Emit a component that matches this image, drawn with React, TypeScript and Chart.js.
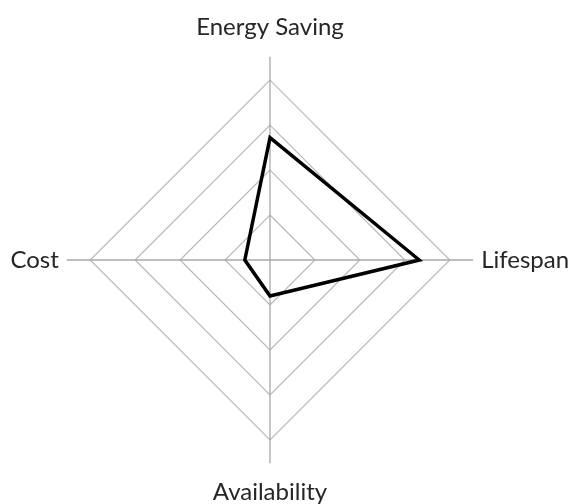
import React, { useEffect, useRef } from "react";
import { Chart, registerables } from "chart.js";

Chart.register(...registerables);

const categories = ["Energy Saving", "Lifespan", "Availability", "Cost"];
const seriesValues = [68, 83, 20, 14];
const gridSteps = [25, 50, 75, 100];

export default function App() {
  const ref = useRef<HTMLCanvasElement | null>(null);
  useEffect(() => {
    if (!ref.current) return;
    const chart = new Chart(ref.current, {
      type: "radar",
      data: {
        labels: categories,
        datasets: [
          {
            label: "Series",
            data: seriesValues,
            borderColor: "#000000",
            borderWidth: 3.5,
            backgroundColor: "transparent",
            fill: false,
            pointRadius: 0,
            pointHoverRadius: 0,
          },
        ],
      },
      options: {
        animation: false,
        responsive: true,
        maintainAspectRatio: false,
        layout: { padding: 0 },
        plugins: { legend: { display: false }, tooltip: { enabled: false } },
        scales: {
          r: {
            min: 0,
            max: 113,
            beginAtZero: true,
            ticks: { display: false, stepSize: 25 },
            grid: {
              circular: false,
              lineWidth: 1.2,
              color: (ctx: any) =>
                ctx.tick && gridSteps.includes(ctx.tick.value) ? "#b8b8b8" : "transparent",
            },
            angleLines: { display: true, color: "#a8a8a8", lineWidth: 1.3 },
            pointLabels: {
              color: "#262626",
              padding: (ctx: any) => (ctx.index % 2 === 0 ? 15 : 8),
              font: { family: "Lato, 'Open Sans', sans-serif", size: 24 },
            },
          },
        },
      },
    });
    return () => chart.destroy();
  }, []);
  return (
    <div
      style={{
        position: "fixed",
        left: 0,
        top: 0,
        width: 571,
        height: 504,
        overflow: "hidden",
      }}
    >
      <div style={{ position: "absolute", left: -10, top: 13, width: 600, height: 494 }}>
        <canvas ref={ref} />
      </div>
    </div>
  );
}
